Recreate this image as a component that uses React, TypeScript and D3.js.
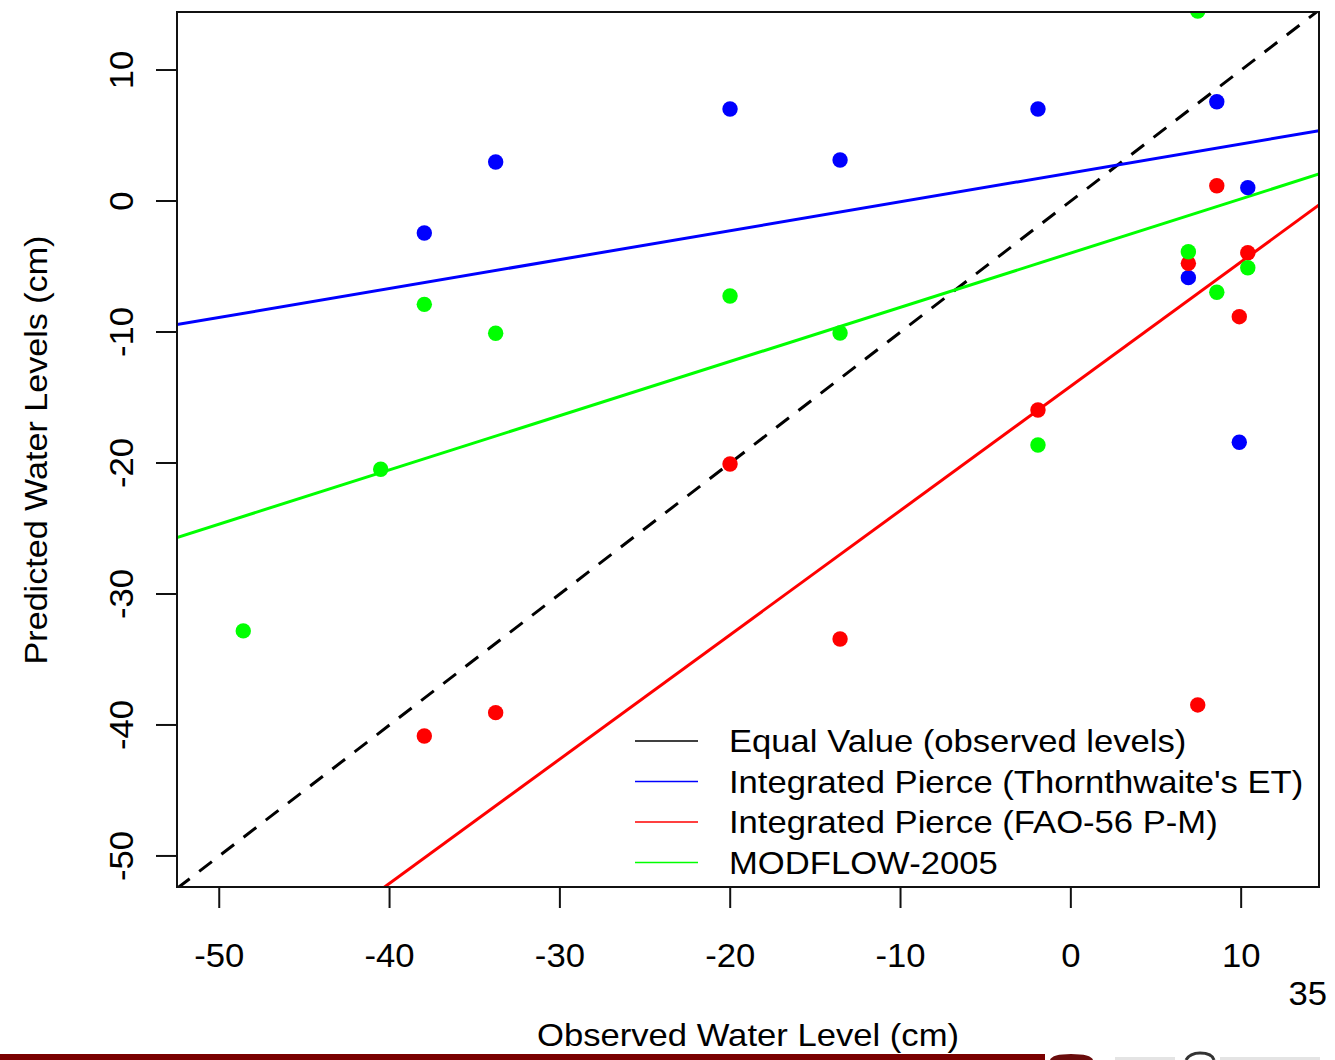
import React from "react";
import * as d3 from "d3";

// ---- data ----
const observed = [-48.59, -40.52, -37.96, -33.77, -20.01, -13.55, -1.93, 6.9, 7.45, 8.57, 9.89, 10.39];
const thornthwaite: (number | null)[] = [null, null, -2.44, 2.98, 7.02, 3.13, 7.02, -5.85, null, 7.58, -18.42, 1.02];
const fao56: (number | null)[] = [null, null, -40.84, -39.06, -20.08, -33.44, -15.95, -4.76, -38.47, 1.17, -8.83, -3.95];
const modflow: (number | null)[] = [-32.82, -20.48, -7.89, -10.1, -7.25, -10.08, -18.63, -3.87, 14.5, -6.97, null, -5.09];

const legendLabels = [
  "Equal Value (observed levels)",
  "Integrated Pierce (Thornthwaite's ET)",
  "Integrated Pierce (FAO-56 P-M)",
  "MODFLOW-2005",
];
const lineColors = ["#000000", "#0000ff", "#ff0000", "#00ff00"];
const lineIntercepts = [0, 2.15, -14.13, -3.97];
const lineSlopes = [1, 0.2207, 0.949, 0.4138];

const xTicks = [-50, -40, -30, -20, -10, 0, 10];
const yTicks = [10, 0, -10, -20, -30, -40, -50];

const xDomain = [-52.48, 14.57];
const yDomain = [-52.37, 14.43];

const FONT = "'Liberation Sans', Arial, Helvetica, sans-serif";

export default function App() {
  const L = 177, R = 1319, T = 12, B = 887;
  const x = d3.scaleLinear().domain(xDomain).range([L, R]);
  const y = d3.scaleLinear().domain(yDomain).range([B, T]);

  const pointSeries = [
    { vals: thornthwaite, color: lineColors[1] },
    { vals: fao56, color: lineColors[2] },
    { vals: modflow, color: lineColors[3] },
  ];

  const lineGen = d3
    .line<[number, number]>()
    .x((d) => x(d[0]))
    .y((d) => y(d[1]));

  const tickSx = 1.05;
  const txtSx = 1.117;

  return (
    <svg
      width={1335}
      height={1060}
      style={{ position: "absolute", left: 0, top: 0, background: "#fff" }}
      fontFamily={FONT}
    >
      <defs>
        <clipPath id="plotclip">
          <rect x={L} y={T} width={R - L} height={B - T} />
        </clipPath>
      </defs>
      <rect x={0} y={0} width={1335} height={1060} fill="#fff" />

      {/* fit lines */}
      <g clipPath="url(#plotclip)">
        {lineIntercepts.map((b, i) => {
          const pts: [number, number][] = xDomain.map((xv) => [xv, b + lineSlopes[i] * xv]);
          return (
            <path
              key={i}
              d={lineGen(pts) || ""}
              fill="none"
              stroke={lineColors[i]}
              strokeWidth={3}
              strokeDasharray={i === 0 ? "16 12" : undefined}
            />
          );
        })}
        {pointSeries.map((s, si) =>
          s.vals.map((v, j) =>
            v === null ? null : (
              <circle key={`${si}-${j}`} cx={x(observed[j])} cy={y(v)} r={7.7} fill={s.color} />
            )
          )
        )}
      </g>

      {/* box */}
      <rect x={L} y={T} width={R - L} height={B - T} fill="none" stroke="#111" strokeWidth={2} />

      {/* x axis */}
      {xTicks.map((t) => (
        <g key={t}>
          <line x1={x(t)} x2={x(t)} y1={B} y2={B + 21} stroke="#111" strokeWidth={2} />
          <text
            transform={`translate(${x(t)},967) scale(${tickSx},1)`}
            textAnchor="middle"
            fontSize={33}
            fill="#000"
          >
            {t}
          </text>
        </g>
      ))}

      {/* y axis */}
      {yTicks.map((t) => (
        <g key={t}>
          <line x1={L - 21} x2={L} y1={y(t)} y2={y(t)} stroke="#111" strokeWidth={2} />
          <text
            transform={`translate(133,${y(t)}) rotate(-90) scale(${tickSx},1)`}
            textAnchor="middle"
            fontSize={33}
            fill="#000"
          >
            {t}
          </text>
        </g>
      ))}

      {/* axis titles */}
      <text
        transform={`translate(748,1046) scale(${txtSx},1)`}
        textAnchor="middle"
        fontSize={31}
        fill="#000"
      >
        Observed Water Level (cm)
      </text>
      <text
        transform={`translate(47,450) rotate(-90) scale(1.1,1)`}
        textAnchor="middle"
        fontSize={31}
        fill="#000"
      >
        Predicted Water Levels (cm)
      </text>

      {/* legend */}
      {legendLabels.map((lab, i) => {
        const cy = 741 + i * 40.5;
        return (
          <g key={lab}>
            <line x1={635} x2={698} y1={cy} y2={cy} stroke={lineColors[i]} strokeWidth={1.5} />
            <text
              transform={`translate(729,${cy + 11}) scale(${txtSx},1)`}
              fontSize={31}
              fill="#000"
            >
              {lab}
            </text>
          </g>
        );
      })}

      {/* slide number */}
      <text transform={`translate(1327,1005) scale(${tickSx},1)`} textAnchor="end" fontSize={33} fill="#000">
        35
      </text>

      {/* slide footer fragments */}
      <rect x={0} y={1054} width={1045} height={6} fill="#7a0000" />
      <path d="M1050,1060 Q1052,1054 1071,1054 Q1091,1054 1093,1060 Z" fill="#6a0c0c" />
      <rect x={1115} y={1057} width={60} height={3} fill="#e4e4e4" />
      <path d="M1186,1060 Q1190,1053 1200,1053 Q1212,1053 1214,1060" fill="none" stroke="#333" strokeWidth={3} />
      <rect x={1220} y={1057} width={100} height={3} fill="#e4e4e4" />
    </svg>
  );
}
